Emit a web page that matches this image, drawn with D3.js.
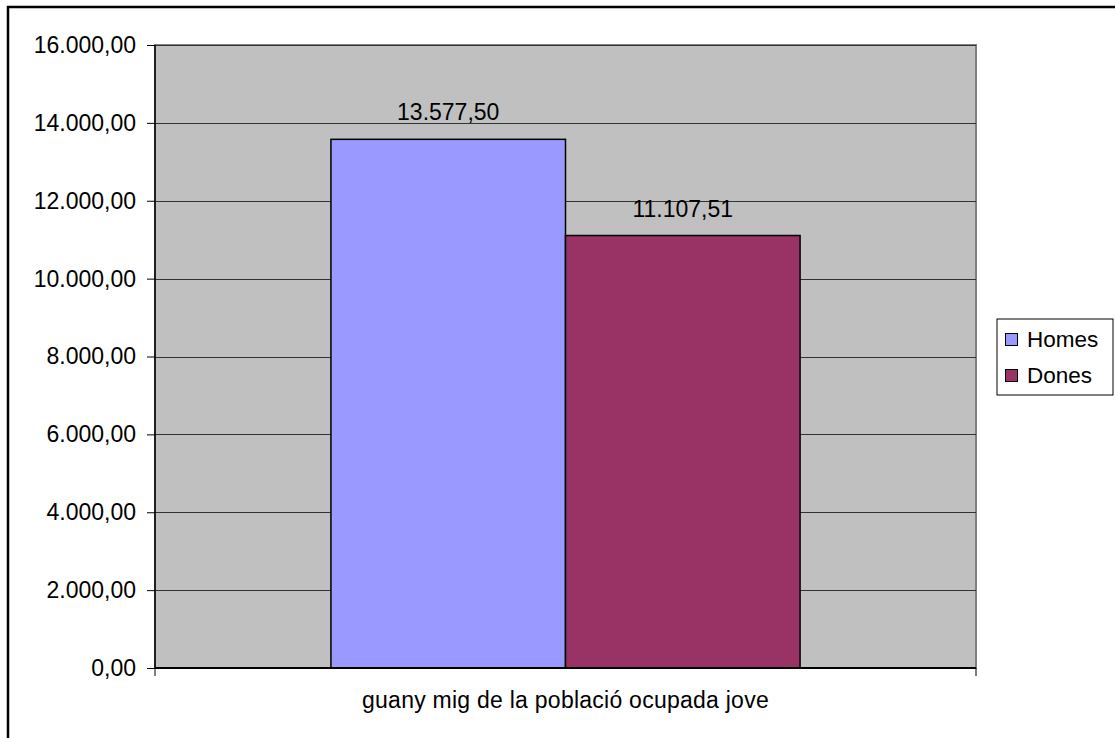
<!DOCTYPE html>
<html><head><meta charset="utf-8">
<script src="https://cdn.jsdelivr.net/npm/d3@7"></script>
<style>body{margin:0;background:#fff}svg{display:block}text{font-family:"Liberation Sans",Arial,sans-serif;fill:#000}</style>
</head><body>
<script>
const categories = ["guany mig de la població ocupada jove"];
const seriesNames = ["Homes", "Dones"];
const seriesValues = [13577.50, 11107.51];
const seriesColors = ["#9999FF", "#993366"];
const yTicks = [0, 2000, 4000, 6000, 8000, 10000, 12000, 14000, 16000];

const W = 1115, H = 738;
const fmt = v => {
  const s = v.toFixed(2).split(".");
  return s[0].replace(/\B(?=(\d{3})+(?!\d))/g, ".") + "," + s[1];
};
const svg = d3.select("body").append("svg").attr("width", W).attr("height", H);
// outer border
svg.append("rect").attr("x", 8).attr("y", 7).attr("width", 1200).attr("height", 800)
  .attr("fill", "#fff").attr("stroke", "#000").attr("stroke-width", 2.5);

const m = {l: 155, t: 45, r: 976, b: 668};
const y = d3.scaleLinear().domain([0, 16000]).range([m.b, m.t]);
const x0 = d3.scaleBand().domain(categories).range([m.l, m.r]).paddingInner(0).paddingOuter(0);
const x1 = d3.scaleBand().domain(seriesNames).range([0, x0.bandwidth()]).paddingOuter(0.75).paddingInner(0);

svg.append("rect").attr("x", m.l).attr("y", m.t).attr("width", m.r - m.l).attr("height", m.b - m.t)
  .attr("fill", "#C0C0C0").attr("stroke", "#808080").attr("stroke-width", 2);

const g = svg.append("g");
g.selectAll("line.grid").data(yTicks.filter(d => d > 0)).join("line").attr("class", "grid")
  .attr("x1", m.l).attr("x2", m.r).attr("y1", d => Math.round(y(d)) + 0.5).attr("y2", d => Math.round(y(d)) + 0.5)
  .attr("stroke", "#333").attr("stroke-width", 1);

const data = categories.flatMap(c => seriesNames.map((s, i) => ({c, s, v: seriesValues[i], col: seriesColors[i]})));
g.selectAll("rect.bar").data(data).join("rect").attr("class", "bar")
  .attr("x", d => x0(d.c) + x1(d.s)).attr("width", x1.bandwidth())
  .attr("y", d => y(d.v)).attr("height", d => y(0) - y(d.v))
  .attr("fill", d => d.col).attr("stroke", "#000").attr("stroke-width", 1.5);

g.selectAll("text.lbl").data(data).join("text").attr("class", "lbl")
  .attr("x", d => x0(d.c) + x1(d.s) + x1.bandwidth() / 2).attr("y", d => y(d.v) - 19)
  .attr("text-anchor", "middle").style("font-size", "23px").text(d => fmt(d.v));

// y axis
const yAxis = d3.axisLeft(y).tickValues(yTicks).tickFormat(fmt).tickSize(8).tickPadding(11);
const ya = svg.append("g").attr("transform", `translate(${m.l},0)`).call(yAxis);
ya.select(".domain").attr("stroke", "#000").attr("stroke-width", 1.5).attr("d", `M0,${m.t}V${m.b}`);
ya.selectAll("text").style("font-size", "23px").attr("font-family", null).attr("fill", "#000");
ya.selectAll("line").attr("stroke", "#000");

// x axis
const xa = svg.append("g").attr("transform", `translate(0,${m.b})`);
xa.append("line").attr("x1", m.l).attr("x2", m.r).attr("y1", 0).attr("y2", 0).attr("stroke", "#000").attr("stroke-width", 2);
xa.selectAll("line.t").data([m.l, m.r]).join("line").attr("class", "t")
  .attr("x1", d => d).attr("x2", d => d).attr("y1", 0).attr("y2", 8).attr("stroke", "#000");
xa.selectAll("text").data(categories).join("text")
  .attr("x", d => x0(d) + x0.bandwidth() / 2).attr("y", 40).attr("text-anchor", "middle")
  .style("font-size", "23px").style("letter-spacing", "0.25px").text(d => d);

// legend
const lg = svg.append("g");
lg.append("rect").attr("x", 997).attr("y", 319).attr("width", 116).attr("height", 76)
  .attr("fill", "#fff").attr("stroke", "#000").attr("stroke-width", 1);
seriesNames.forEach((s, i) => {
  const cy = 339 + i * 36;
  lg.append("rect").attr("x", 1005.5).attr("y", cy - 5.5).attr("width", 12).attr("height", 12)
    .attr("fill", seriesColors[i]).attr("stroke", "#000").attr("stroke-width", 1);
  lg.append("text").attr("x", 1027).attr("y", cy + 8).style("font-size", "22.5px").text(s);
});
</script>
</body></html>
